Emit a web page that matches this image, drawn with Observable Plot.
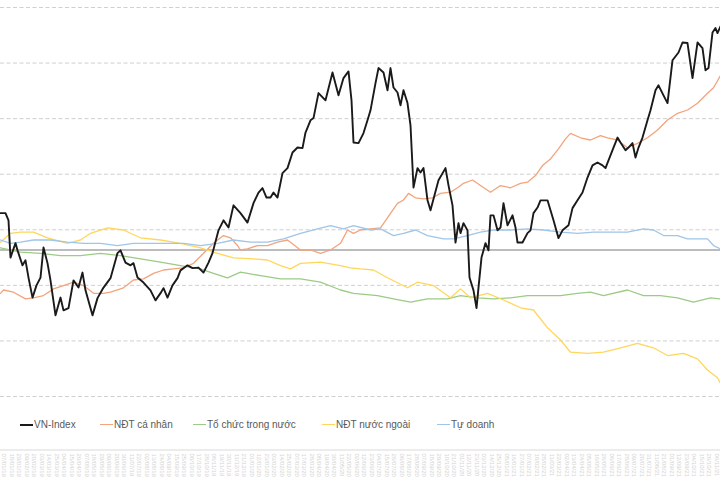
<!DOCTYPE html>
<html>
<head>
<meta charset="utf-8">
<script src="https://cdn.jsdelivr.net/npm/d3@7"></script>
<script src="https://cdn.jsdelivr.net/npm/@observablehq/plot@0.6"></script>
<style>
  html, body { margin: 0; padding: 0; background: #fff; }
  #wrap { position: relative; width: 720px; height: 480px; overflow: hidden; font-family: "Liberation Sans", Arial, sans-serif; }
  #wrap svg { position: absolute; left: 0; top: 0; }
  #legend { position: absolute; top: 419px; left: 0; width: 720px; height: 16px; font-size: 10px; color: #595959; }
  .li { position: absolute; top: 0; display: flex; align-items: center; white-space: nowrap; }
  .sw { display: inline-block; width: 13px; height: 0; margin-right: 1px; }
  #band { position: absolute; left: 0; top: 449px; width: 720px; height: 2px; background: #ececec; }
</style>
</head>
<body>
<div id="wrap"></div>
<script>
// ---- data (session index, value) ----
const seriesNames = ["VN-Index", "NĐT cá nhân", "Tổ chức trong nước", "NĐT nước ngoài", "Tự doanh"];
const seriesColors = ["#1a1a1a", "#f2a47c", "#9ccb85", "#ffd65c", "#9fc5e8"];

// VN-Index (points)
const vnT = [0,5,8,10,15,17,22,25,28,32,36,40,43,47,50,55,60,63,68,73,78,82,85,92,97,103,110,117,120,125,130,133,137,143,150,155,160,163,167,172,177,180,187,192,198,203,208,212,218,223,228,233,240,247,253,258,262,266,270,273,277,282,287,292,297,302,305,310,313,318,325,332,338,343,348,351,353,358,363,367,370,375,378,383,387,390,393,397,400,403,407,410,413,417,420,423,427,430,434,438,445,448,452,455,458,460,463,467,469,473,476,478,481,485,488,490,493,497,500,503,507,512,515,517,522,527,530,533,537,540,547,553,558,562,568,572,577,582,587,592,597,602,605,608,613,617,620,625,628,632,635,638,642,647,650,655,658,663,667,672,678,682,687,692,697,702,705,708,712,715,717,720];
const vnV = [1130,1130,1117,1050,1076,1063,1036,1045,1014,978,1000,1014,1068,1040,1009,946,978,955,959,1009,996,1023,991,946,977,996,1013,1058,1063,1041,1036,1040,1014,1005,991,973,986,995,978,1000,1013,1027,1036,1031,1032,1023,1041,1058,1099,1117,1104,1144,1130,1113,1148,1167,1175,1158,1158,1167,1158,1202,1211,1239,1248,1247,1275,1297,1301,1346,1333,1383,1342,1373,1385,1333,1257,1256,1274,1297,1315,1364,1391,1383,1351,1391,1356,1347,1324,1351,1328,1288,1176,1211,1203,1211,1153,1135,1162,1189,1211,1180,1144,1077,1112,1094,1112,1099,1014,991,959,996,1050,1076,1063,1126,1126,1099,1104,1148,1108,1126,1104,1077,1077,1094,1099,1130,1140,1153,1153,1117,1085,1099,1108,1139,1153,1167,1194,1216,1221,1216,1211,1225,1248,1266,1257,1243,1248,1256,1230,1248,1266,1297,1315,1351,1360,1342,1328,1405,1419,1437,1436,1373,1437,1427,1387,1391,1455,1463,1454,1466];

// Cumulative net flows (nghìn tỷ đồng)
const caNhanT = [0,3,13,25,33,43,53,63,73,83,93,103,110,123,133,143,153,163,173,183,193,203,213,223,230,237,240,247,257,267,277,287,300,310,320,330,340,347,353,360,370,380,390,397,403,408,415,423,432,440,450,457,463,472,480,490,500,510,520,527,535,542,550,558,565,570,580,590,600,607,617,627,637,647,657,667,677,687,697,707,713,720];
const caNhanV = [-39,-36,-38,-44,-43,-41,-35,-32,-29,-32,-39,-39,-38,-34,-27,-26,-21,-18,-17,-16,-12,-3,6,13,11,4,0,1,4,4,7,9,0,0,-3,0,6,18,15,18,19,20,33,42,45,51,47,46,47,51,52,56,60,63,58,52,58,56,60,61,67,76,82,91,100,105,101,99,103,101,99,92,96,101,108,117,123,126,132,141,146,157];

const toChucT = [0,20,40,60,80,100,120,140,160,180,200,213,227,240,260,280,300,320,340,353,377,393,410,427,447,460,477,493,510,527,543,560,577,590,603,627,643,660,677,693,710,720];
const toChucV = [2,-2,-3,-5,-5,-3,-5,-8,-11,-14,-17,-21,-25,-20,-23,-26,-26,-29,-36,-39,-41,-44,-47,-44,-44,-41,-43,-44,-43,-41,-41,-41,-39,-38,-41,-36,-41,-41,-43,-47,-43,-44];

const nuocNgoaiT = [0,10,20,33,47,67,80,90,107,123,140,160,180,200,217,233,253,267,280,290,300,320,340,350,360,373,387,407,417,433,450,460,470,487,503,520,533,547,560,570,587,603,620,637,653,667,683,697,707,717,720];
const nuocNgoaiV = [7,15,16,16,11,6,9,15,20,18,11,9,6,2,-3,-7,-8,-9,-14,-17,-12,-11,-14,-16,-17,-18,-25,-34,-29,-32,-43,-35,-43,-39,-45,-52,-54,-70,-81,-92,-93,-92,-88,-84,-88,-95,-93,-98,-108,-115,-120];

const tuDoanhT = [0,10,20,33,50,67,83,100,117,133,150,167,183,200,217,233,250,267,283,300,317,330,343,353,370,380,393,403,415,427,443,453,467,480,493,510,527,543,560,577,593,610,627,643,653,663,677,687,697,707,713,720];
const tuDoanhV = [9,6,7,9,9,7,6,6,4,6,6,6,6,4,6,9,7,7,10,15,19,22,19,22,18,19,13,15,18,13,10,10,13,16,18,18,19,18,16,15,16,16,16,19,18,13,13,10,10,10,4,1];

const vnTicks = [800, 900, 1000, 1100, 1200, 1300, 1400, 1500];
const startDate = "2019-01-02";
const sessionsPerTick = 7.5;

// ---- build tables ----
const vn = vnT.map((t, i) => ({t, v: vnV[i]}));
const zip = (name, T, V) => T.map((t, i) => ({t, v: V[i], s: name}));
const flows = [
  ...zip(seriesNames[1], caNhanT, caNhanV),
  ...zip(seriesNames[2], toChucT, toChucV),
  ...zip(seriesNames[3], nuocNgoaiT, nuocNgoaiV),
  ...zip(seriesNames[4], tuDoanhT, tuDoanhV)
];
const tickPos = d3.range(sessionsPerTick / 2, 720, sessionsPerTick);
const fmt = d3.utcFormat("%d/%m/%y");
const d0 = new Date(startDate + "T00:00:00Z");
const tickLabels = tickPos.map(p => fmt(d3.utcDay.offset(d0, Math.round(p * 1.45))));

const W = 720, H = 480, mt = 7, mb = 84;
const common = {width: W, height: H, marginTop: mt, marginBottom: mb, marginLeft: 0, marginRight: 0,
  style: {background: "transparent", fontFamily: "Liberation Sans, Arial, sans-serif"}};

const p1 = Plot.plot({
  ...common,
  x: {domain: [0, 720], axis: null},
  y: {domain: [800, 1500], axis: null},
  marks: [
    Plot.gridY(vnTicks, {stroke: "#cfcfcf", strokeOpacity: 1, strokeDasharray: "4,2.5", strokeWidth: 1}),
    Plot.axisX(tickPos, {tickSize: 0, tickRotate: 90, tickPadding: 57, fontSize: 6, fill: "#d4d4d4",
      tickFormat: (d, i) => tickLabels[i]})
  ]
});

const p2 = Plot.plot({
  ...common,
  x: {domain: [0, 720], axis: null},
  y: {domain: [-131.85, 218.25], axis: null},
  color: {domain: seriesNames.slice(1), range: seriesColors.slice(1)},
  marks: [
    Plot.ruleY([0], {stroke: "#a6a6a6", strokeWidth: 1.6}),
    Plot.line(flows, {x: "t", y: "v", z: "s", stroke: "s", strokeWidth: 1.3, curve: "linear"})
  ]
});

const p3 = Plot.plot({
  ...common,
  x: {domain: [0, 720], axis: null},
  y: {domain: [800, 1500], axis: null},
  marks: [
    Plot.line(vn, {x: "t", y: "v", stroke: seriesColors[0], strokeWidth: 1.9, strokeLinejoin: "round"})
  ]
});

const wrap = document.getElementById("wrap");
wrap.appendChild(p1);
wrap.appendChild(p2);
wrap.appendChild(p3);

const band = document.createElement("div");
band.id = "band";
wrap.appendChild(band);

const legendX = [20, 100, 193, 322, 437];
const legend = document.createElement("div");
legend.id = "legend";
seriesNames.forEach((n, i) => {
  const item = document.createElement("div");
  item.className = "li";
  item.style.left = legendX[i] + "px";
  const sw = document.createElement("span");
  sw.className = "sw";
  sw.style.borderTop = (i === 0 ? 2 : 1.5) + "px solid " + seriesColors[i];
  const tx = document.createElement("span");
  tx.textContent = n;
  item.appendChild(sw);
  item.appendChild(tx);
  legend.appendChild(item);
});
wrap.appendChild(legend);
</script>
</body>
</html>
